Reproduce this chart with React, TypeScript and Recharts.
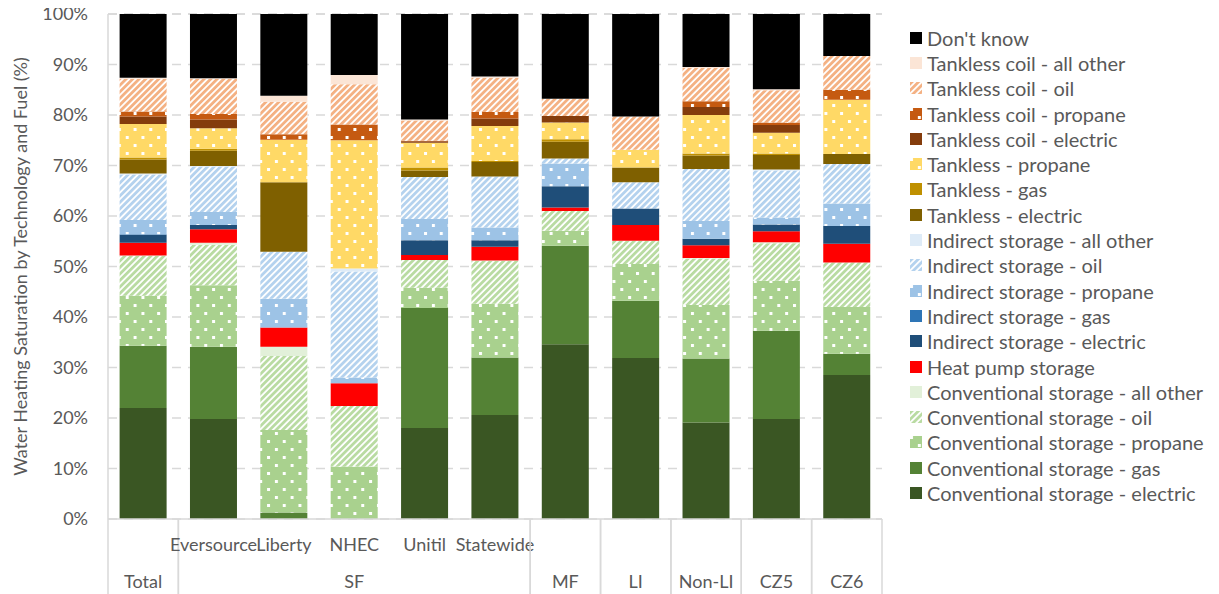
import React from 'react';
import { BarChart, Bar, XAxis, YAxis, CartesianGrid } from 'recharts';

// order: Total, Eversource, Liberty, NHEC, Unitil, Statewide, MF, LI, Non-LI, CZ5, CZ6
const categories = ['Total', 'Eversource', 'Liberty', 'NHEC', 'Unitil', 'Statewide', 'MF', 'LI', 'Non-LI', 'CZ5', 'CZ6'];
const subLabels = ['', 'Eversource', 'Liberty', 'NHEC', 'Unitil', 'Statewide', '', '', '', '', ''];
const groupLabels = ['Total', 'SF', 'SF', 'SF', 'SF', 'SF', 'MF', 'LI', 'Non-LI', 'CZ5', 'CZ6'];
const yTicks = [0, 10, 20, 30, 40, 50, 60, 70, 80, 90, 100];

const convElectric = [22.0, 19.8, 0, 0, 18.0, 20.6, 34.6, 31.9, 19.1, 19.8, 28.5];
const convGas = [12.3, 14.3, 1.3, 0, 23.8, 11.4, 19.5, 11.3, 12.7, 17.5, 4.2];
const convPropane = [9.9, 12.2, 16.3, 10.4, 4.0, 10.6, 3.0, 7.3, 10.6, 9.9, 9.3];
const convOil = [7.9, 8.0, 14.7, 12.0, 5.5, 8.5, 3.9, 4.6, 9.2, 7.4, 8.8];
const convOther = [0.1, 0.4, 1.8, 0, 0, 0.1, 0, 0, 0.1, 0.2, 0];
const heatPump = [2.5, 2.7, 3.8, 4.5, 1.0, 2.7, 0.7, 3.1, 2.5, 2.2, 3.7];
const indElectric = [1.6, 0.8, 0, 0, 2.9, 1.3, 4.2, 3.3, 1.3, 1.3, 3.5];
const indGas = [0.1, 0, 0, 0, 0, 0, 0, 0, 0, 0, 0];
const indPropane = [2.8, 2.6, 5.7, 1.1, 4.2, 2.5, 4.5, 0, 3.5, 1.4, 4.5];
const indOil = [9.0, 9.0, 9.3, 21.0, 8.3, 10.1, 1.0, 5.2, 10.3, 9.3, 7.8];
const indOther = [0.2, 0.1, 0, 0.6, 0, 0, 0, 0, 0, 0.2, 0];
const tanklessElectric = [2.8, 3.0, 13.8, 0, 1.3, 2.9, 3.3, 2.9, 2.7, 2.9, 2.0];
const tanklessGas = [0.4, 0.4, 0, 0, 0.6, 0.2, 0.5, 0, 0.4, 0.3, 0];
const tanklessPropane = [6.6, 4.1, 8.4, 25.4, 4.9, 6.9, 3.3, 3.5, 7.6, 4.1, 10.7];
const coilElectric = [1.5, 1.7, 0, 0, 0.3, 1.5, 1.3, 0, 1.6, 1.5, 0];
const coilPropane = [1.0, 1.1, 1.1, 3.1, 0.1, 1.3, 0, 0, 1.1, 0.5, 2.0];
const coilOil = [6.5, 7.0, 6.4, 8.0, 4.0, 6.8, 3.4, 6.6, 6.6, 6.4, 6.7];
const coilOther = [0.2, 0.1, 1.2, 1.8, 0.2, 0.2, 0, 0, 0.2, 0.2, 0];
const dontKnow = [12.6, 12.7, 16.2, 12.1, 20.9, 12.4, 16.8, 20.3, 10.5, 14.9, 8.3];

// stack order bottom -> top
const series = [
  { key: 'convElectric', name: 'Conventional storage - electric', values: convElectric, color: '#3a5623', fill: 'solid' },
  { key: 'convGas', name: 'Conventional storage - gas', values: convGas, color: '#548235', fill: 'solid' },
  { key: 'convPropane', name: 'Conventional storage - propane', values: convPropane, color: '#a9d18e', fill: 'dots' },
  { key: 'convOil', name: 'Conventional storage - oil', values: convOil, color: '#b9dba2', fill: 'hatch' },
  { key: 'convOther', name: 'Conventional storage - all other', values: convOther, color: '#e2f0d9', fill: 'solid' },
  { key: 'heatPump', name: 'Heat pump storage', values: heatPump, color: '#ff0000', fill: 'solid' },
  { key: 'indElectric', name: 'Indirect storage - electric', values: indElectric, color: '#1f4e79', fill: 'solid' },
  { key: 'indGas', name: 'Indirect storage - gas', values: indGas, color: '#2e75b6', fill: 'solid' },
  { key: 'indPropane', name: 'Indirect storage - propane', values: indPropane, color: '#9dc3e6', fill: 'dots' },
  { key: 'indOil', name: 'Indirect storage - oil', values: indOil, color: '#b4d2ee', fill: 'hatch' },
  { key: 'indOther', name: 'Indirect storage - all other', values: indOther, color: '#deebf7', fill: 'solid' },
  { key: 'tanklessElectric', name: 'Tankless - electric', values: tanklessElectric, color: '#7f6000', fill: 'solid' },
  { key: 'tanklessGas', name: 'Tankless - gas', values: tanklessGas, color: '#bf9000', fill: 'solid' },
  { key: 'tanklessPropane', name: 'Tankless - propane', values: tanklessPropane, color: '#ffd966', fill: 'dots' },
  { key: 'coilElectric', name: 'Tankless coil - electric', values: coilElectric, color: '#843c0c', fill: 'solid' },
  { key: 'coilPropane', name: 'Tankless coil - propane', values: coilPropane, color: '#c55a11', fill: 'dots' },
  { key: 'coilOil', name: 'Tankless coil - oil', values: coilOil, color: '#f4b183', fill: 'hatch' },
  { key: 'coilOther', name: 'Tankless coil - all other', values: coilOther, color: '#fbe5d6', fill: 'solid' },
  { key: 'dontKnow', name: "Don't know", values: dontKnow, color: '#000000', fill: 'solid' },
];

const data = categories.map((name, i) => {
  const row: Record<string, string | number> = { name };
  series.forEach((s) => { row[s.key] = s.values[i]; });
  return row;
});

const FONT = 'Lato, "Liberation Sans", sans-serif';
const TEXT = '#595959';
const W = 1211;
const H = 594;
const MARGIN = { top: 14, right: 337, bottom: 0, left: 0 };
const Y_W = 100;
const X_H = 75;
const BAND = (W - MARGIN.left - MARGIN.right - Y_W) / categories.length;

const fillFor = (s: typeof series[number]) => (s.fill === 'solid' ? s.color : `url(#${s.fill}-${s.key})`);

const Patterns = () => (
  <svg width={0} height={0} style={{ position: 'absolute' }}>
    <defs>
      {series.filter((s) => s.fill === 'dots').map((s) => (
        <pattern key={s.key} id={`dots-${s.key}`} patternUnits="userSpaceOnUse" width={15.7} height={16}>
          <rect width={15.7} height={16} fill={s.color} />
          <rect x={0} y={0} width={3} height={3} fill="#ffffff" />
          <rect x={7.85} y={8} width={3} height={3} fill="#ffffff" />
        </pattern>
      ))}
      {series.filter((s) => s.fill === 'hatch').map((s) => (
        <pattern key={s.key} id={`hatch-${s.key}`} patternUnits="userSpaceOnUse" width={4.6} height={4.6} patternTransform="rotate(45)">
          <rect width={4.6} height={4.6} fill="#ffffff" />
          <rect width={2.8} height={4.6} fill={s.color} />
        </pattern>
      ))}
    </defs>
  </svg>
);

const CategoryTick = (props: any) => {
  const { x, y, payload } = props;
  const i = payload.index;
  const g = groupLabels[i];
  const first = i === 0 || groupLabels[i - 1] !== g;
  const last = i === categories.length - 1 || groupLabels[i + 1] !== g;
  const members = groupLabels.map((v, k) => (v === g ? k : -1)).filter((k) => k >= 0);
  const mid = (members[0] + members[members.length - 1]) / 2;
  const groupX = x + (mid - i) * BAND;
  return (
    <g>
      {first && <line x1={x - BAND / 2} x2={x - BAND / 2} y1={y} y2={y + X_H} stroke="#d9d9d9" strokeWidth={1.5} />}
      {last && <line x1={x + BAND / 2} x2={x + BAND / 2} y1={y} y2={y + X_H} stroke="#d9d9d9" strokeWidth={1.5} />}
      {subLabels[i] && (
        <text x={x} y={y + 25} textAnchor="middle" dominantBaseline="central" fill={TEXT} fontSize={18} fontFamily={FONT}>
          {subLabels[i]}
        </text>
      )}
      {first && (
        <text x={groupX} y={y + 62} textAnchor="middle" dominantBaseline="central" fill={TEXT} fontSize={18} fontFamily={FONT}>
          {g}
        </text>
      )}
    </g>
  );
};

const YTitle = (props: any) => {
  const { viewBox } = props;
  const cx = 12;
  const cy = viewBox.y + viewBox.height / 2;
  return (
    <text x={cx} y={cy} transform={`rotate(-90, ${cx}, ${cy})`} textAnchor="middle" dominantBaseline="central"
      fill={TEXT} fontSize={18} fontFamily={FONT}>
      Water Heating Saturation by Technology and Fuel (%)
    </text>
  );
};

const LegendSwatch = ({ s }: { s: typeof series[number] }) => (
  <svg width={12} height={12} style={{ display: 'block', flex: 'none' }}>
    <rect width={12} height={12} fill={fillFor(s)} />
  </svg>
);

export default function App() {
  const legendItems = [...series].reverse();
  return (
    <div style={{ position: 'relative', width: W, height: H, margin: '-8px 0 0 0' }}>
      <Patterns />
      <BarChart width={W} height={H} data={data} margin={MARGIN} barCategoryGap="16.5%">
        <CartesianGrid vertical={false} stroke="#d9d9d9" strokeDasharray="9 7" strokeWidth={1.5} />
        <XAxis dataKey="name" interval={0} height={X_H} tickLine={false} tickSize={0} tickMargin={0}
          axisLine={{ stroke: '#d9d9d9', strokeWidth: 1.5 }} tick={<CategoryTick />} />
        <YAxis width={Y_W} domain={[0, 100]} ticks={yTicks} interval={0} tickFormatter={(v) => `${v}%`}
          tickLine={false} tickSize={8} tickMargin={12} axisLine={{ stroke: '#d9d9d9', strokeWidth: 1.5 }}
          tick={{ fill: TEXT, fontSize: 18, fontFamily: FONT }} label={<YTitle />} />
        {series.map((s) => (
          <Bar key={s.key} dataKey={s.key} name={s.name} stackId="a" fill={fillFor(s)} isAnimationActive={false} />
        ))}
      </BarChart>
      <div style={{ position: 'absolute', left: 902, top: 25, fontFamily: FONT, fontSize: 20, color: TEXT }}>
        {legendItems.map((s) => (
          <div key={s.key} style={{ display: 'flex', alignItems: 'center', height: 25.3, whiteSpace: 'nowrap' }}>
            <LegendSwatch s={s} />
            <span style={{ marginLeft: 5 }}>{s.name}</span>
          </div>
        ))}
      </div>
    </div>
  );
}
